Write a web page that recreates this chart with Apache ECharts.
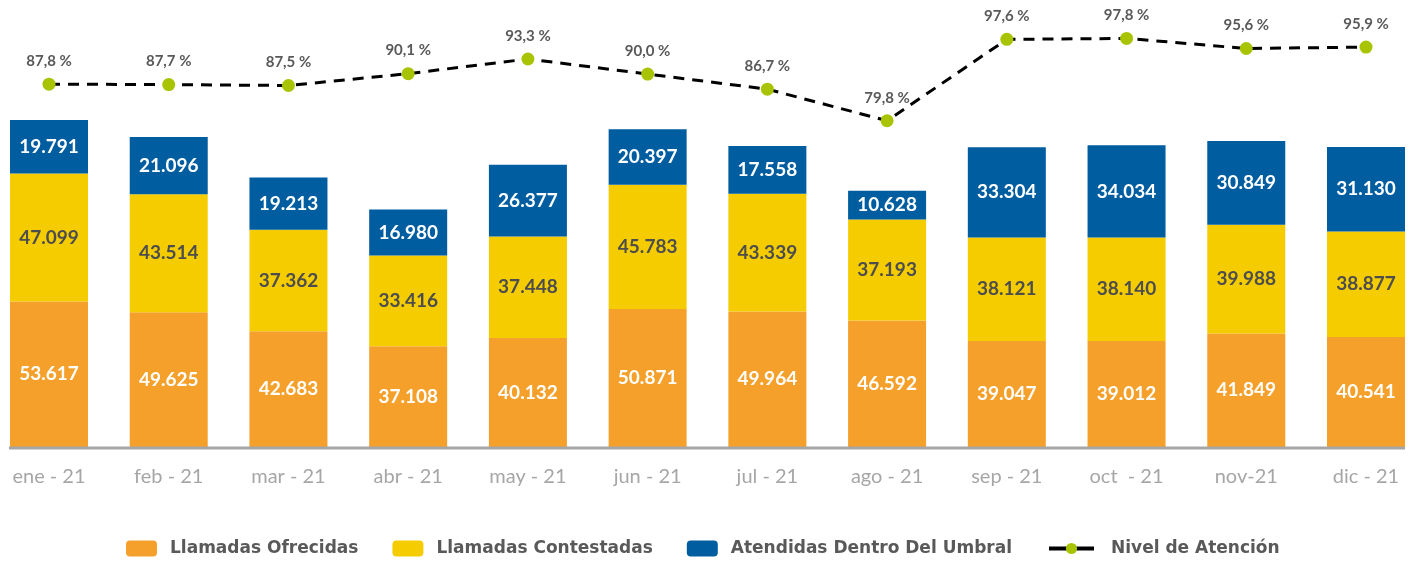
<!DOCTYPE html>
<html>
<head>
<meta charset="utf-8">
<script src="https://cdn.jsdelivr.net/npm/echarts@6/dist/echarts.min.js"></script>
<style>
  html, body { margin: 0; padding: 0; background: #fff; }
  #chart { width: 1413px; height: 561px; }
</style>
</head>
<body>
<div id="chart"></div>
<script>
// meses
var meses = ['ene - 21', 'feb - 21', 'mar - 21', 'abr - 21', 'may - 21', 'jun - 21', 'jul - 21', 'ago - 21', 'sep - 21', 'oct  - 21', 'nov-21', 'dic - 21']
var ofrecidas = [53617, 49625, 42683, 37108, 40132, 50871, 49964, 46592, 39047, 39012, 41849, 40541]
var contestadas = [47099, 43514, 37362, 33416, 37448, 45783, 43339, 37193, 38121, 38140, 39988, 38877]
var umbral = [19791, 21096, 19213, 16980, 26377, 20397, 17558, 10628, 33304, 34034, 30849, 31130]
var nivel = [87.8, 87.7, 87.5, 90.1, 93.3, 90.0, 86.7, 79.8, 97.6, 97.8, 95.6, 95.9]

function miles(v) {
  return String(v).replace(/\B(?=(\d{3})+(?!\d))/g, '.')
}

var barLabel = function(color) {
  return {
    show: true,
    position: 'inside',
    color: color,
    fontFamily: 'Lato',
    fontWeight: 'bold',
    fontSize: 19,
    formatter: function(p) { return miles(p.value) }
  }
}

var myChart = echarts.init(document.getElementById('chart'))
var option = {
  animation: false,
  grid: {
    left: 49,
    right: 47,
    top: 5.5,
    bottom: 114,
    containLabel: false
  },
  legend: [
    {
      left: 121,
      top: 535,
      itemWidth: 31,
      itemHeight: 16,
      itemGap: 34,
      icon: 'roundRect',
      data: ['Llamadas Ofrecidas', 'Llamadas Contestadas', 'Atendidas Dentro Del Umbral'],
      textStyle: {
        color: '#595959',
        fontFamily: 'DejaVu Sans',
        fontWeight: 'bold',
        fontSize: 17,
        padding: [0, 0, 0, 8]
      }
    },
    {
      left: 1042,
      top: 535,
      itemWidth: 45,
      itemHeight: 14,
      data: [{
        name: 'Nivel de Atención',
        lineStyle: { type: 'solid', width: 4, color: '#000' }
      }],
      lineStyle: { type: 'solid', width: 4, color: '#000' },
      textStyle: {
        color: '#595959',
        fontFamily: 'DejaVu Sans',
        fontWeight: 'bold',
        fontSize: 17,
        padding: [0, 0, 0, 12]
      }
    }
  ],
  xAxis: {
    type: 'category',
    boundaryGap: false,
    data: meses,
    axisLine: { show: false },
    axisTick: { show: false },
    axisLabel: {
      color: '#a6a6a6',
      fontFamily: 'Lato',
      fontSize: 20,
      margin: 20
    }
  },
  yAxis: [
    {
      type: 'value',
      min: 0,
      max: 162650,
      show: false,
      splitLine: { show: false }
    },
    {
      type: 'value',
      min: 8.45,
      max: 105,
      show: false,
      splitLine: { show: false }
    }
  ],
  series: [
    {
      name: 'Llamadas Ofrecidas',
      type: 'bar',
      stack: 'total',
      barWidth: 78,
      clip: false,
      data: ofrecidas,
      itemStyle: { color: '#F5A02A' },
      label: barLabel('#ffffff')
    },
    {
      name: 'Llamadas Contestadas',
      type: 'bar',
      stack: 'total',
      barWidth: 78,
      clip: false,
      data: contestadas,
      itemStyle: { color: '#F5CC00' },
      label: barLabel('#4d4d4d')
    },
    {
      name: 'Atendidas Dentro Del Umbral',
      type: 'bar',
      stack: 'total',
      barWidth: 78,
      clip: false,
      data: umbral,
      itemStyle: { color: '#005DA0' },
      label: barLabel('#ffffff')
    },
    {
      name: 'Nivel de Atención',
      type: 'line',
      yAxisIndex: 1,
      data: nivel,
      clip: false,
      symbol: 'circle',
      symbolSize: 13,
      itemStyle: { color: '#A8C400' },
      lineStyle: { color: '#000', width: 3, type: [11, 8] },
      label: {
        show: true,
        position: 'top',
        distance: 9,
        color: '#595959',
        fontFamily: 'Lato',
        fontWeight: 'bold',
        fontSize: 15,
        formatter: function(p) { return p.value.toFixed(1).replace('.', ',') + ' %' }
      },
      z: 5
    }
  ]
}
myChart.setOption(option)

// linea base del eje: del borde de la primera barra al de la ultima
var p0 = myChart.convertToPixel({ xAxisIndex: 0, yAxisIndex: 0 }, [0, 0])
var p1 = myChart.convertToPixel({ xAxisIndex: 0, yAxisIndex: 0 }, [meses.length - 1, 0])
myChart.setOption({
  graphic: [{
    type: 'line',
    shape: { x1: p0[0] - 40, y1: p0[1] + 1, x2: p1[0] + 39, y2: p1[1] + 1 },
    style: { stroke: '#a6a6a6', lineWidth: 3 },
    z: 10
  }]
})
</script>
</body>
</html>
